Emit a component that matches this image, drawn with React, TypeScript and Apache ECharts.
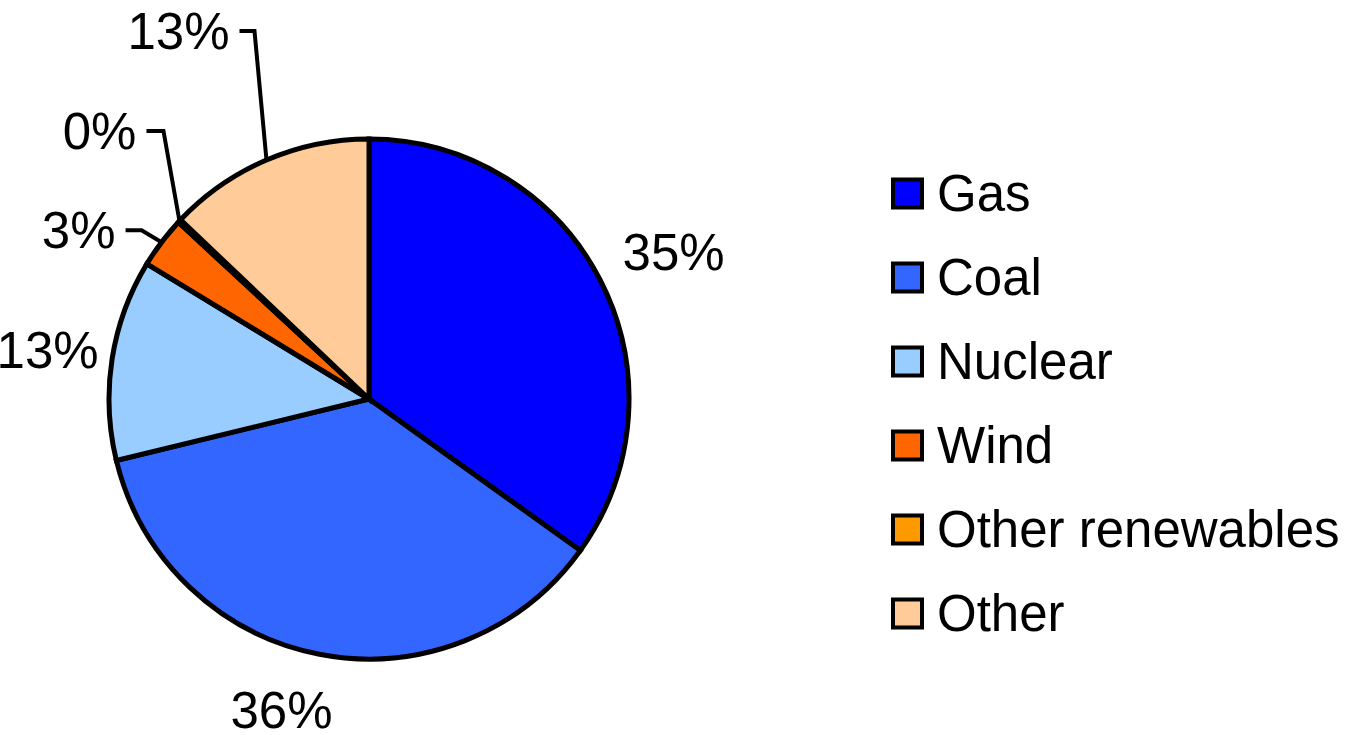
import React, { useEffect, useRef } from "react";
import * as echarts from "echarts";

const categories = ["Gas", "Coal", "Nuclear", "Wind", "Other renewables", "Other"];
const shares = [34.9, 36.3, 12.5, 3.2, 0.2, 12.9];
const colors = ["#0000FF", "#3366FF", "#99CCFF", "#FF6600", "#FF9900", "#FFCC99"];

// label placement styling (not data)
const CX = 369;
const CY = 399;
const R = 260;
const labelStyles: any[] = [
  { dist: 338, shift: 1.5 },
  { dist: 324, shift: 4.7 },
  { dist: 325, shift: -0.3 },
  { elbow: [-20, -12], end: [-36, -12] },
  { elbow: [-16, -90], end: [-33, -90] },
  { elbow: [-12, -129], end: [-27, -129] },
];

const FONT = "'Liberation Sans', Arial, sans-serif";

export default function App() {
  const ref = useRef<HTMLDivElement>(null);
  useEffect(() => {
    if (!ref.current) return;
    const chart = echarts.init(ref.current, null, { renderer: "svg" });
    const total = shares.reduce((a, b) => a + b, 0);
    const midAngle = (i: number) => {
      let s = 0;
      for (let k = 0; k < i; k++) s += shares[k];
      return ((s + shares[i] / 2) / total) * Math.PI * 2;
    };
    chart.setOption({
      animation: false,
      backgroundColor: "#ffffff",
      legend: {
        orient: "vertical",
        left: 891,
        top: 168,
        padding: 0,
        itemWidth: 29,
        itemHeight: 28,
        itemGap: 33,
        icon: "rect",
        itemStyle: { borderColor: "#000", borderWidth: 4 },
        textStyle: {
          fontSize: 51,
          lineHeight: 51,
          color: "#000",
          fontFamily: FONT,
          padding: [0, 0, 0, 10],
        },
        data: categories,
      },
      series: [
        {
          type: "pie",
          center: [CX, CY],
          radius: R,
          startAngle: 90,
          clockwise: true,
          avoidLabelOverlap: false,
          itemStyle: { borderColor: "#000", borderWidth: 5, borderJoin: "miter" },
          label: {
            show: true,
            position: "outside",
            fontSize: 51,
            lineHeight: 50,
            color: "#000",
            fontFamily: FONT,
            formatter: (p: any) => Math.round(p.percent) + "%",
          },
          labelLine: { show: true, lineStyle: { color: "#000", width: 4 } },
          emphasis: { disabled: true },
          labelLayout: (params: any) => {
            const i = params.dataIndex;
            const st = labelStyles[i];
            if (st.dist) {
              const th = midAngle(i) + ((st.shift || 0) * Math.PI) / 180;
              return {
                x: CX + st.dist * Math.sin(th),
                y: CY - st.dist * Math.cos(th),
                align: "center",
                verticalAlign: "middle",
              };
            }
            const th = midAngle(i);
            const ex = CX + R * Math.sin(th);
            const ey = CY - R * Math.cos(th);
            const p1 = [ex + st.elbow[0], ey + st.elbow[1]];
            const p2 = [ex + st.end[0], ey + st.end[1]];
            return {
              x: p2[0] - 10,
              y: p2[1],
              align: "right",
              verticalAlign: "middle",
              labelLinePoints: [[ex, ey], p1, p2],
            };
          },
          data: categories.map((name, i) => ({
            name,
            value: shares[i],
            itemStyle: { color: colors[i], borderColor: "#000", borderWidth: 5 },
            labelLine: { show: i >= 3 },
          })),
        },
      ],
    });
    return () => chart.dispose();
  }, []);
  return (
    <div
      ref={ref}
      style={{ position: "fixed", left: 0, top: 0, width: 1345, height: 735 }}
    />
  );
}
